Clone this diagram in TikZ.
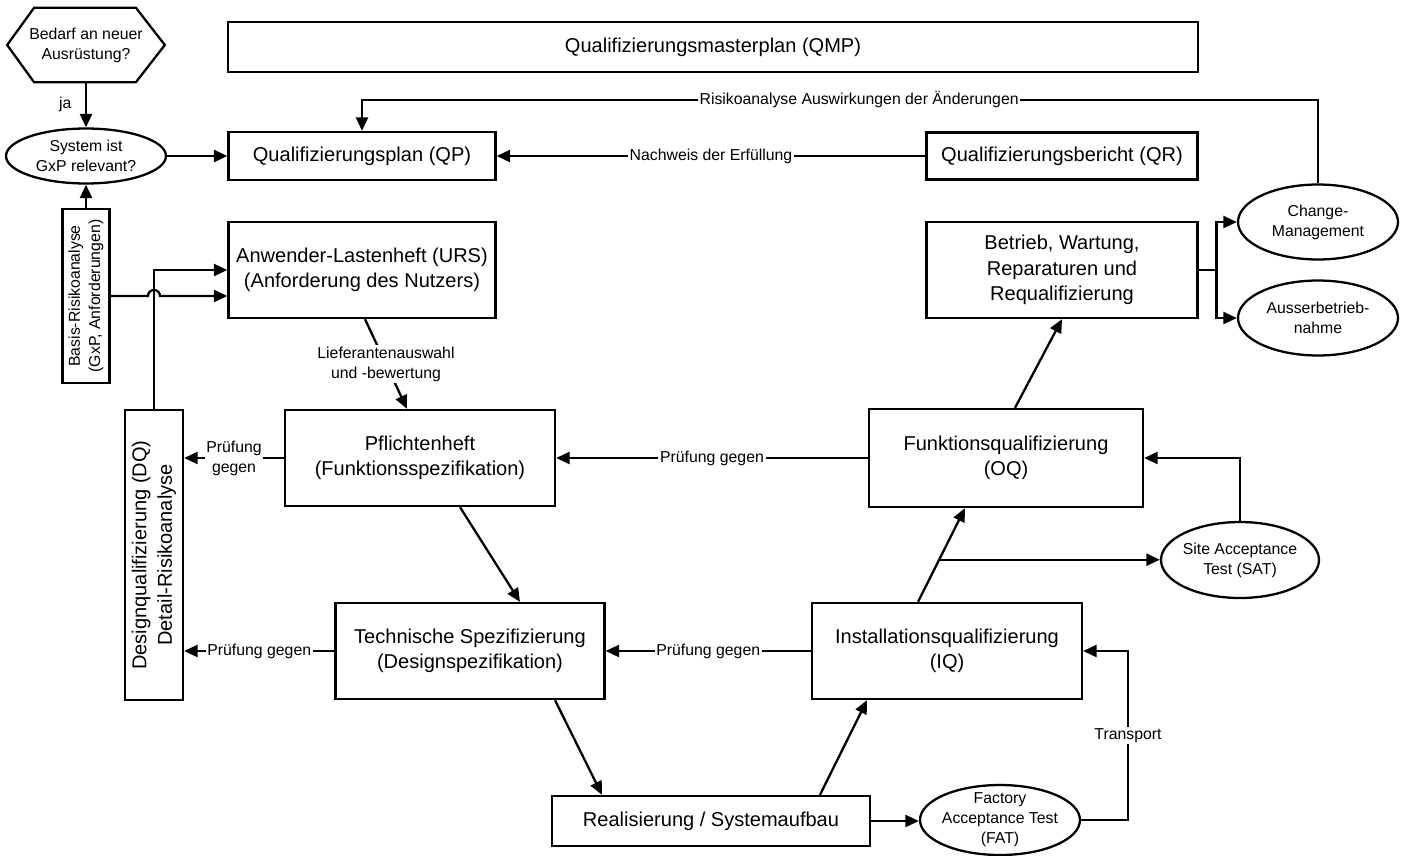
\documentclass[tikz,border=0pt]{standalone}
\usepackage{fontspec}
\setmainfont{Liberation Sans}
\usetikzlibrary{arrows.meta}
\usetikzlibrary{shapes.geometric}

\tikzset{
  box/.style={draw, line width=1.3pt, align=center, inner sep=2pt, font=\fontsize{11.4}{14.5}\selectfont},
  oval/.style={draw, ellipse, line width=1.3pt, align=center, inner sep=-3pt, minimum width=3.2cm, minimum height=1.5cm, font=\fontsize{9}{11.4}\selectfont},
  lbl/.style={fill=white, inner sep=1pt, align=center, font=\fontsize{9}{11.4}\selectfont},
  conn/.style={line width=1.3pt, -{Triangle[length=0.27cm,width=0.24cm]}},
  wire/.style={line width=1.3pt},
}

\begin{document}
\begin{tikzpicture}[x=0.02cm, y=-0.02cm]
    \useasboundingbox (0,0) rectangle (1401,856);

    %nodes
    \node[minimum width=3.14cm, minimum height=1.48cm, align=center, font=\fontsize{9}{11.4}\selectfont] (need) at (86,45) {Bedarf an neuer\\Ausrüstung?};
    \node[oval, minimum height=1.1cm] (gxp) at (86,156) {System ist\\GxP relevant?};
    \node[box, minimum width=0.94cm, minimum height=3.48cm, font=\fontsize{9}{11.4}\selectfont] (basis) at (86,296) {\rotatebox{90}{\begin{tabular}{@{}c@{}}Basis-Risikoanalyse\\(GxP, Anforderungen)\end{tabular}}};
    \node[box, minimum width=1.04cm, minimum height=5.8cm] (dq) at (154,555) {\rotatebox{90}{\begin{tabular}{@{}c@{}}Designqualifizierung (DQ)\\Detail-Risikoanalyse\end{tabular}}};

    \node[box, minimum width=19.4cm, minimum height=1cm] (qmp) at (713,47) {Qualifizierungsmasterplan (QMP)};
    \node[box, minimum width=5.34cm, minimum height=0.96cm] (qp) at (362,156) {Qualifizierungsplan (QP)};
    \node[box, minimum width=5.42cm, minimum height=0.94cm] (qr) at (1062,156) {Qualifizierungsbericht (QR)};
    \node[box, minimum width=5.34cm, minimum height=1.92cm] (urs) at (362,270) {Anwender-Lastenheft (URS)\\(Anforderung des Nutzers)};
    \node[box, minimum width=5.42cm, minimum height=1.92cm] (betrieb) at (1062,270) {Betrieb, Wartung,\\Reparaturen und\\Requalifizierung};
    \node[box, minimum width=5.4cm, minimum height=1.92cm] (pflicht) at (420,458) {Pflichtenheft\\(Funktionsspezifikation)};
    \node[box, minimum width=5.48cm, minimum height=1.96cm] (oq) at (1006,458) {Funktionsqualifizierung\\(OQ)};
    \node[box, minimum width=5.38cm, minimum height=1.92cm] (tech) at (470,651) {Technische Spezifizierung\\(Designspezifikation)};
    \node[box, minimum width=5.4cm, minimum height=1.92cm] (iq) at (947,651) {Installationsqualifizierung\\(IQ)};
    \node[box, minimum width=6.36cm, minimum height=1cm] (real) at (711,821) {Realisierung / Systemaufbau};

    \node[oval] (change) at (1318,222) {Change-\\Management};
    \node[oval] (ausser) at (1318,318) {Ausserbetrieb-\\nahme};
    \node[oval, minimum width=3.16cm, minimum height=1.52cm] (sat) at (1240,560) {Site Acceptance\\Test (SAT)};
    \node[oval, minimum height=1.4cm] (fat) at (1000,820) {Factory\\Acceptance Test\\(FAT)};

    \coordinate (rk) at (0,100);
    \coordinate (tr) at (1128,0);

    % hexagon
    \draw[wire] (need.west) -- ([xshift=0.54cm]need.north west) -- ([xshift=-0.58cm]need.north east) -- (need.east)
        -- ([xshift=-0.58cm]need.south east) -- ([xshift=0.54cm]need.south west) -- cycle;

    % edges
    \draw[conn] (need) -- node[left=0.15cm, font=\fontsize{9}{11.4}\selectfont] {ja} (gxp);
    \draw[conn] (gxp) -- (qp);
    \draw[conn] (basis) -- (gxp);
    \draw[conn] (basis.east) -- ([xshift=-0.12cm]dq.north |- basis.east) arc[start angle=180, end angle=0, radius=0.12cm] -- (basis.east -| urs.west);
    \draw[conn] (dq.north) |- (urs.west);
    \draw[conn] (qr) -- node[lbl] {Nachweis der Erfüllung} (qp);
    \draw[conn] (change.north) -- (change.north |- rk) -- node[lbl, pos=0.48] {Risikoanalyse Auswirkungen der Änderungen} (qp.north |- rk) -- (qp.north);
    \draw[conn] ([xshift=0.06cm]urs.south) -- node[lbl] {Lieferantenauswahl\\und -bewertung} ([xshift=-0.26cm]pflicht.north);
    \draw[conn] (pflicht.west) -- node[lbl] {Prüfung\\gegen} (pflicht.west -| dq.east);
    \draw[conn] (tech.west) -- node[lbl] {Prüfung gegen} (tech.west -| dq.east);
    \draw[conn] ([xshift=0.8cm]pflicht.south) -- ([xshift=1cm]tech.north);
    \draw[conn] ([xshift=1.7cm]tech.south) -- ([xshift=-2.18cm]real.north);
    \draw[conn] ([xshift=2.18cm]real.north) -- ([xshift=-1.6cm]iq.south);
    \draw[conn] (iq) -- node[lbl] {Prüfung gegen} (tech);
    \draw[conn] (real.east) -- (real.east -| fat.west);
    \draw[conn] (fat.east) -- (fat.east -| tr) -- node[lbl] {Transport} (iq.east -| tr) -- (iq.east);
    \draw[conn] ([xshift=-0.58cm]iq.north) -- coordinate[pos=0.45] (br) ([xshift=-0.82cm]oq.south);
    \draw[conn] (br) -- (br -| sat.west);
    \draw[conn] (sat.north) |- (oq.east);
    \draw[conn] (oq) -- node[lbl] {Prüfung gegen} (pflicht);
    \draw[conn] ([xshift=0.18cm]oq.north) -- (betrieb.south);
    \draw[wire] (betrieb.east) -- ++(18,0) coordinate (sp);
    \draw[conn] (sp) |- (change.west);
    \draw[conn] (sp) |- (ausser.west);
\end{tikzpicture}
\end{document}
